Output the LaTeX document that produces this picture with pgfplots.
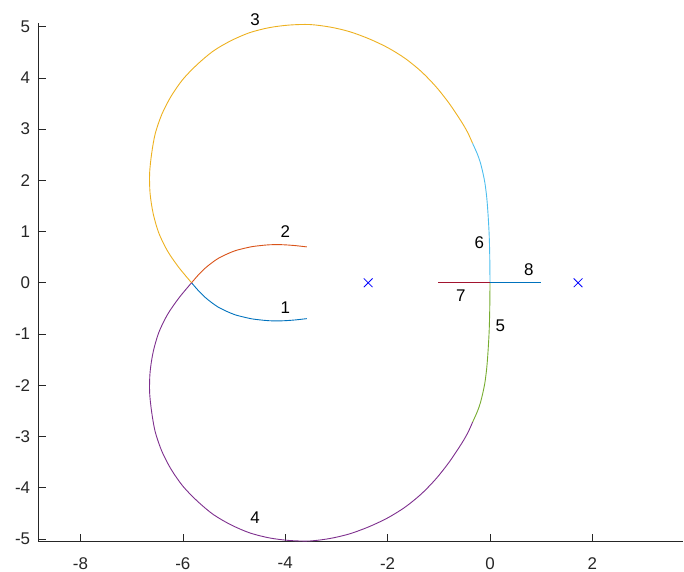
\documentclass[border=0pt]{standalone}
\usepackage{pgfplots}
\pgfplotsset{compat=1.18}
\usepackage{fontspec}
\setmainfont{Liberation Sans}

% default line colour order
\definecolor{c1}{rgb}{0,0.447,0.741}
\definecolor{c2}{rgb}{0.85,0.325,0.098}
\definecolor{c3}{rgb}{0.929,0.694,0.125}
\definecolor{c4}{rgb}{0.494,0.184,0.556}
\definecolor{c5}{rgb}{0.466,0.674,0.188}
\definecolor{c6}{rgb}{0.301,0.745,0.933}
\definecolor{c7}{rgb}{0.635,0.078,0.184}
\definecolor{axgray}{rgb}{0.15,0.15,0.15}

\begin{document}
\fontsize{17}{20}\selectfont
\begin{tikzpicture}
\begin{axis}[
  scale only axis,
  width=645bp, height=518.5bp,
  xmin=-8.83, xmax=3.77, ymin=-5.05, ymax=5.07,
  axis lines=left,
  axis line style={color=axgray, line width=0.6bp, -},
  xtick={-8,-6,...,2}, ytick={-5,-4,...,5},
  tick align=inside, major tick length=8bp,
  tick style={color=axgray, line width=0.6bp},
  ticklabel style={font=\fontsize{17}{20}\selectfont, text=axgray},
  xticklabel style={yshift=-10bp},
  yticklabel style={xshift=-2bp},
  /pgf/number format/assume math mode=true,
  clip=false,
  every axis plot/.append style={line width=0.9bp},
]
\coordinate (ll) at (rel axis cs:0,0);

% branch 1
\addplot[c1, smooth, mark=none] coordinates {
(-3.58,-0.70) (-3.80,-0.725) (-4.00,-0.74) (-4.16,-0.745) (-4.33,-0.74)
(-4.49,-0.725) (-4.65,-0.705) (-4.81,-0.67) (-4.98,-0.625) (-5.14,-0.56)
(-5.31,-0.475) (-5.44,-0.385) (-5.57,-0.28) (-5.70,-0.15) (-5.83,0)};
% branch 2
\addplot[c2, smooth, mark=none] coordinates {
(-3.58,0.70) (-3.80,0.725) (-4.00,0.74) (-4.16,0.745) (-4.33,0.74)
(-4.49,0.725) (-4.65,0.705) (-4.81,0.67) (-4.98,0.625) (-5.14,0.56)
(-5.31,0.475) (-5.44,0.385) (-5.57,0.28) (-5.70,0.15) (-5.83,0)};
% branch 3
\addplot[c3, smooth, mark=none] coordinates {
(-5.83,0.00) (-6.08,0.30) (-6.30,0.62) (-6.47,0.97) (-6.58,1.35)
(-6.64,1.74) (-6.65,2.13) (-6.61,2.52) (-6.54,2.91) (-6.41,3.29)
(-6.23,3.64) (-6.00,3.97) (-5.72,4.26) (-5.41,4.52) (-5.07,4.72)
(-4.70,4.88) (-4.31,4.98) (-3.92,5.03) (-3.52,5.04) (-3.12,4.99)
(-2.74,4.90) (-2.36,4.76) (-2.00,4.59) (-1.66,4.38) (-1.34,4.12)
(-1.05,3.82) (-0.79,3.49) (-0.55,3.13) (-0.43,2.92) (-0.34,2.72)};
% branch 4
\addplot[c4, smooth, mark=none] coordinates {
(-5.83,0.00) (-6.08,-0.30) (-6.30,-0.62) (-6.47,-0.97) (-6.58,-1.35)
(-6.64,-1.74) (-6.65,-2.13) (-6.61,-2.52) (-6.54,-2.91) (-6.41,-3.29)
(-6.23,-3.64) (-6.00,-3.97) (-5.72,-4.26) (-5.41,-4.52) (-5.07,-4.72)
(-4.70,-4.88) (-4.31,-4.98) (-3.92,-5.03) (-3.52,-5.04) (-3.12,-4.99)
(-2.74,-4.90) (-2.36,-4.76) (-2.00,-4.59) (-1.66,-4.38) (-1.34,-4.12)
(-1.05,-3.82) (-0.79,-3.49) (-0.55,-3.13) (-0.43,-2.92) (-0.34,-2.72)};
% branch 5
\addplot[c5, smooth, mark=none] coordinates {
(0,0) (-0.005,-0.50) (-0.015,-0.90) (-0.03,-1.20) (-0.05,-1.50)
(-0.07,-1.72) (-0.10,-1.95) (-0.14,-2.15) (-0.19,-2.35) (-0.25,-2.52)
(-0.34,-2.72)};
% branch 6
\addplot[c6, smooth, mark=none] coordinates {
(0,0) (-0.005,0.50) (-0.015,0.90) (-0.03,1.20) (-0.05,1.50)
(-0.07,1.72) (-0.10,1.95) (-0.14,2.15) (-0.19,2.35) (-0.25,2.52)
(-0.34,2.72)};
% branch 7
\addplot[c7, mark=none] coordinates {(-1.01,0) (0,0)};
% branch 8
\addplot[c1, mark=none] coordinates {(0,0) (0.99,0)};

% poles
\addplot[only marks, mark=x, mark size=6.2bp, blue,
  mark options={line width=0.8bp}]
  coordinates {(-2.38,0) (1.72,0)};

% branch numbers
\node at (axis cs:-4.00,-0.49) {1};
\node at (axis cs:-4.00,0.99) {2};
\node at (axis cs:-4.59,5.14) {3};
\node at (axis cs:-4.59,-4.59) {4};
\node at (axis cs:0.20,-0.84) {5};
\node at (axis cs:-0.21,0.78) {6};
\node at (axis cs:-0.57,-0.25) {7};
\node at (axis cs:0.76,0.26) {8};
\end{axis}
\pgfresetboundingbox
\path[use as bounding box] (ll) ++(-38bp,-30.5bp) rectangle ++(684bp,572bp);
\end{tikzpicture}
\end{document}
